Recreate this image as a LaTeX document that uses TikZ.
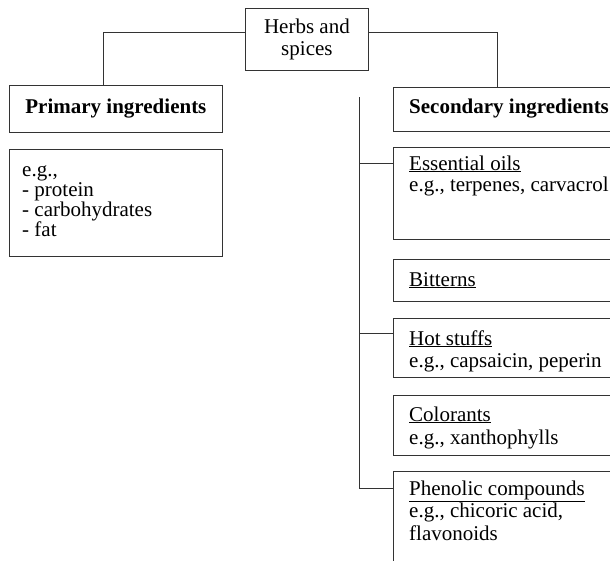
\documentclass[tikz,border=0pt]{standalone}
\usepackage{fontspec}
\setmainfont{Liberation Serif}
\begin{document}
\begin{tikzpicture}[x=1pt,y=-1pt,
  box/.style={draw=black!80, line width=0.8pt, rectangle, inner sep=0pt, anchor=north west},
  txt/.style={inner sep=0pt, anchor=base west, align=left, font=\fontsize{21}{22}\selectfont},
  ln/.style={draw=black!80, line width=0.8pt}]
\useasboundingbox (0,0) rectangle (610,560);
\clip (0,0) rectangle (610,560);
% boxes
\node[box, minimum width=123pt, minimum height=62pt, align=center, font=\fontsize{21}{22}\selectfont] (herbs) at (245,8) {Herbs and\\spices};
\node[box, minimum width=213pt, minimum height=47pt, font=\bfseries\fontsize{21}{22}\selectfont] (primary) at (9,85) {Primary ingredients};
\node[box, minimum width=213pt, minimum height=107pt] (primeg) at (9,149) {};
\node[box, minimum width=227pt, minimum height=44pt] (secondary) at (393,87) {};
\node[box, minimum width=227pt, minimum height=92pt] (eo) at (393,147) {};
\node[box, minimum width=227pt, minimum height=42pt] (bit) at (393,259) {};
\node[box, minimum width=227pt, minimum height=59pt] (hot) at (393,318) {};
\node[box, minimum width=227pt, minimum height=60pt] (col) at (393,395) {};
\node[box, minimum width=227pt, minimum height=105pt] (phen) at (393,471) {};
% texts (anchor = baseline of the last line)
\node[txt, font=\fontsize{21}{19.7}\selectfont] (primegt) at (22,236) {e.g.,\\- protein\\- carbohydrates\\- fat};
\node[txt, font=\bfseries\fontsize{21}{22}\selectfont] (secondaryt) at (409,113) {Secondary ingredients};
\node[txt, font=\fontsize{21}{21}\selectfont] (eot) at (409,191) {\underline{Essential oils}\\e.g., terpenes, carvacrol};
\node[txt] (bitt) at (409,286) {\underline{Bitterns}};
\node[txt, font=\fontsize{21}{22}\selectfont] (hott) at (409,367) {\underline{Hot stuffs}\\e.g., capsaicin, peperin};
\node[txt, font=\fontsize{21}{23}\selectfont] (colt) at (409,444) {\underline{Colorants}\\e.g., xanthophylls};
\node[txt, font=\fontsize{21}{22.5}\selectfont] (phent) at (409,540) {\underline{Phenolic compounds}\\e.g., chicoric acid,\\flavonoids};
% connectors
\draw[ln] ([yshift=7pt]herbs.west) -| ([xshift=94pt]primary.north west);
\draw[ln] ([yshift=7pt]herbs.east) -| ([xshift=104pt]secondary.north west);
\coordinate (ttop) at (359,97);
\coordinate (eoj) at ([yshift=-16pt]eo.north west);
\coordinate (hotj) at ([yshift=-15pt]hot.north west);
\coordinate (phenj) at ([yshift=-17pt]phen.north west);
\draw[ln] (ttop) |- (phenj);
\draw[ln] (eoj -| ttop) -- (eoj);
\draw[ln] (hotj -| ttop) -- (hotj);
\end{tikzpicture}
\end{document}
